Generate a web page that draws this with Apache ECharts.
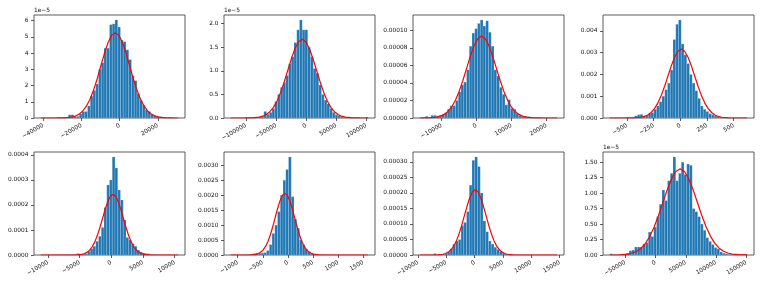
<!DOCTYPE html>
<html><head><meta charset="utf-8">
<script src="https://cdn.jsdelivr.net/npm/echarts@6/dist/echarts.min.js"></script>
<style>html,body{margin:0;padding:0;background:#fff}#c{width:761px;height:286px}</style>
</head><body><div id="c"></div>
<script>
const NBINS = 50;

// ---- Panel 1 (densities in 1e-5) ----
const range1 = [-41270, 30660];
const dens1 = [0.01,0.01,0,0.01,0.02,0.01,0.02,0.03,0.04,0.05,
  0.2,0.2,0.1,0.1,0.25,0.4,0.4,0.75,1.35,1.7,
  2.1,3.0,3.4,4.3,4.3,5.75,5.8,6.04,5.6,4.8,
  4.7,4.2,3.6,2.6,2.3,1.5,1.1,0.8,0.5,0.4,
  0.25,0.15,0.1,0.08,0.05,0.03,0.02,0.01,0.01,0.01];
const curveX1 = [-41270,-32700,-28900,-25100,-23200,-21300,-19400,-17500,-15600,-13700,-11800,-9900,-8000,-6100,-4200,-2300,-400,1500,3400,5300,7200,9100,11000,12900,14800,16700,18600,20500,24300,28100,30660];
const curveY1 = [0,0.0018,0.0115,0.058,0.12,0.23,0.418,0.71,1.136,1.705,2.403,3.184,3.963,4.633,5.088,5.25,5.088,4.633,3.963,3.184,2.403,1.705,1.136,0.71,0.418,0.23,0.12,0.058,0.0115,0.0018,0];
const xTicks1 = [-40000,-20000,0,20000];
const yTicks1 = [0,1,2,3,4,5,6];

// ---- Panel 2 (1e-5) ----
const range2 = [-125300, 103000];
const dens2 = [0.01,0,0,0.005,0,0.005,0.01,0.01,0.005,0.01,
  0.02,0.04,0.14,0.08,0.12,0.2,0.35,0.5,0.65,0.75,
  0.9,1.15,1.3,1.6,1.87,2.08,1.87,1.87,1.5,1.3,
  1.05,0.95,0.7,0.5,0.38,0.3,0.2,0.12,0.07,0.05,
  0.03,0.02,0.01,0.01,0.005,0.005,0,0,0.005,0.02];
const curveX2 = [-125300,-102300,-90350,-78400,-72425,-66450,-60475,-54500,-48525,-42550,-36575,-30600,-24625,-18650,-12675,-6700,-725,5250,11225,17200,23175,29150,35125,41100,47075,53050,59025,65000,76950,88900,103000];
const curveY2 = [0,0.00056,0.0037,0.0185,0.0381,0.0733,0.1329,0.226,0.3612,0.5422,0.7645,1.0129,1.2605,1.4738,1.6186,1.67,1.6186,1.4738,1.2605,1.0129,0.7645,0.5422,0.3612,0.226,0.1329,0.0733,0.0381,0.0185,0.0037,0.00056,0];
const xTicks2 = [-100000,-50000,0,50000,100000];
const yTicks2 = [0,0.5,1,1.5,2];

// ---- Panel 3 (1e-4) ----
const range3 = [-16225, 23085];
const dens3 = [0.005,0.01,0.02,0.01,0.03,0.03,0.025,0.03,0.04,0.06,
  0.1,0.14,0.14,0.2,0.3,0.38,0.41,0.55,0.82,0.97,
  1.02,1.08,1.12,1.05,1.11,0.98,0.82,0.55,0.48,0.35,
  0.27,0.15,0.21,0.11,0.1,0.05,0.03,0.02,0.02,0.015,
  0.01,0.005,0.005,0.005,0.003,0.003,0.003,0.002,0.002,0.005];
const curveX3 = [-16225,-15650,-13515,-11380,-10313,-9245,-8178,-7110,-6043,-4975,-3908,-2840,-1773,-705,363,1430,2498,3565,4633,5700,6768,7835,8903,9970,11038,12105,13173,14240,16375,18510,23085];
const curveY3 = [0,0.00031,0.00205,0.0104,0.0213,0.041,0.0744,0.1265,0.2022,0.3036,0.428,0.5671,0.7057,0.8251,0.9062,0.935,0.9062,0.8251,0.7057,0.5671,0.428,0.3036,0.2022,0.1265,0.0744,0.041,0.0213,0.0104,0.00205,0.00031,0];
const xTicks3 = [-10000,0,10000,20000];
const yTicks3 = [0,0.2,0.4,0.6,0.8,1.0];

// ---- Panel 4 (1e-3) ----
const range4 = [-661, 626];
const dens4 = [0.02,0.01,0.01,0.02,0.02,0.03,0.05,0.05,0.05,0.1,
  0.15,0.17,0.1,0.12,0.2,0.25,0.4,0.55,0.75,1.0,
  1.3,1.6,2.2,3.6,4.3,4.5,3.4,2.9,2.5,2.0,
  1.6,1.25,0.9,0.55,0.4,0.3,0.2,0.15,0.1,0.06,
  0.05,0.03,0.02,0.03,0.01,0.01,0.01,0.005,0.005,0.01];
const curveX4 = [-661,-495,-432,-369,-337.5,-306,-274.5,-243,-211.5,-180,-148.5,-117,-85.5,-54,-22.5,9,40.5,72,103.5,135,166.5,198,229.5,261,292.5,324,355.5,387,450,513,626];
const curveY4 = [0,0.00106,0.0069,0.0351,0.072,0.1387,0.2515,0.4275,0.6835,1.026,1.4466,1.9165,2.3852,2.7887,3.0627,3.16,3.0627,2.7887,2.3852,1.9165,1.4466,1.026,0.6835,0.4275,0.2515,0.1387,0.072,0.0351,0.0069,0.00106,0];
const xTicks4 = [-500,-250,0,250,500];
const yTicks4 = [0,1,2,3,4];

// ---- Panel 5 (1e-4) ----
const range5 = [-11127, 10547];
const dens5 = [0.01,0,0,0.005,0.005,0.01,0.01,0.01,0.02,0.02,
  0.02,0.03,0.03,0.06,0.03,0.04,0.05,0.15,0.25,0.35,
  0.55,0.75,1.1,1.9,2.8,3.0,3.92,3.48,2.6,2.2,
  1.4,0.7,0.6,0.45,0.35,0.2,0.12,0.08,0.06,0.05,
  0.03,0.02,0.01,0.01,0.005,0.005,0.005,0,0,0.005];
const curveX5 = [-11127,-6300,-5480,-4660,-4250,-3840,-3430,-3020,-2610,-2200,-1790,-1380,-970,-560,-150,260,670,1080,1490,1900,2310,2720,3130,3540,3950,4360,4770,5180,6000,6820,10547];
const curveY5 = [0,0.00081,0.0053,0.0269,0.0552,0.1062,0.1926,0.3274,0.5234,0.7858,1.1079,1.4677,1.8266,2.1357,2.3455,2.42,2.3455,2.1357,1.8266,1.4677,1.1079,0.7858,0.5234,0.3274,0.1926,0.1062,0.0552,0.0269,0.0053,0.00081,0];
const xTicks5 = [-10000,-5000,0,5000,10000];
const yTicks5 = [0,1,2,3,4];

// ---- Panel 6 (1e-3) ----
const range6 = [-1136, 1597];
const dens6 = [0.02,0.01,0,0.01,0.01,0.02,0.02,0.03,0.05,0.06,
  0.06,0.07,0.08,0.15,0.35,0.72,1.0,1.45,2.0,2.5,
  2.86,3.28,1.95,1.2,0.9,0.5,0.35,0.2,0.12,0.06,
  0.04,0.03,0.02,0.02,0.01,0.01,0.01,0.005,0.005,0.005,
  0.005,0.005,0.003,0.003,0.003,0.003,0.003,0.003,0.003,0.005];
const curveX6 = [-1136,-836,-739,-642,-593.5,-545,-496.5,-448,-399.5,-351,-302.5,-254,-205.5,-157,-108.5,-60,-11.5,37,85.5,134,182.5,231,279.5,328,376.5,425,473.5,522,619,716,1597];
const curveY6 = [0,0.00069,0.0045,0.0229,0.047,0.0904,0.164,0.2787,0.4456,0.6689,0.9431,1.2494,1.5549,1.818,1.9966,2.06,1.9966,1.818,1.5549,1.2494,0.9431,0.6689,0.4456,0.2787,0.164,0.0904,0.047,0.0229,0.0045,0.00069,0];
const xTicks6 = [-1000,-500,0,500,1000,1500];
const yTicks6 = [0,0.5,1,1.5,2,2.5,3];

// ---- Panel 7 (1e-4) ----
const range7 = [-9669, 14554];
const dens7 = [0.01,0.005,0.005,0.01,0.01,0.05,0.01,0.02,0.03,0.05,
  0.1,0.2,0.35,0.45,0.5,0.95,1.05,1.4,2.25,3.05,
  3.16,2.85,2.0,1.1,0.75,0.45,0.35,0.25,0.18,0.12,
  0.06,0.03,0.02,0.02,0.01,0.01,0.01,0.005,0.005,0.005,
  0.003,0.003,0.003,0.003,0.003,0.003,0.003,0.003,0.003,0.005];
const curveX7 = [-9669,-7500,-6550,-5600,-5125,-4650,-4175,-3700,-3225,-2750,-2275,-1800,-1325,-850,-375,100,575,1050,1525,2000,2475,2950,3425,3900,4375,4850,5325,5800,6750,7700,14554];
const curveY7 = [0,0.0007,0.0046,0.0233,0.0479,0.0922,0.1672,0.2841,0.4542,0.6819,0.9614,1.2737,1.5851,1.8533,2.0353,2.1,2.0353,1.8533,1.5851,1.2737,0.9614,0.6819,0.4542,0.2841,0.1672,0.0922,0.0479,0.0233,0.0046,0.0007,0];
const xTicks7 = [-10000,-5000,0,5000,10000,15000];
const yTicks7 = [0,0.5,1,1.5,2,2.5,3];

// ---- Panel 8 (1e-5) ----
const range8 = [-75460, 151300];
const dens8 = [0.02,0.01,0.01,0.01,0.01,0.01,0.03,0.07,0.08,0.13,
  0.13,0.13,0.18,0.2,0.37,0.3,0.45,0.62,0.82,1.05,
  0.88,1.2,1.32,1.585,1.2,1.32,1.5,1.3,1.47,1.45,
  0.75,0.7,0.62,0.5,0.4,0.28,0.22,0.17,0.12,0.1,
  0.05,0.03,0.02,0.01,0.01,0.01,0.01,0.01,0.01,0.01];
const curveX8 = [-75460,-59580,-45260,-38100,-30940,-23780,-16620,-9460,-2300,4860,12020,19180,26340,33500,40660,47820,54980,62140,69300,76460,83620,90780,97940,105100,112260,119420,126580,140900,151300];
const curveY8 = [0.0004,0.00305,0.0155,0.0318,0.0612,0.1109,0.1885,0.3013,0.4523,0.6377,0.8449,1.0514,1.2293,1.3501,1.393,1.3501,1.2293,1.0514,0.8449,0.6377,0.4523,0.3013,0.1885,0.1109,0.0612,0.0318,0.0155,0.00305,0.0008];
const xTicks8 = [-50000,0,50000,100000,150000];
const yTicks8 = [0,0.25,0.5,0.75,1,1.25,1.5];

const panels = [
  {range:range1, dens:dens1, cx:curveX1, cy:curveY1, xt:xTicks1, yt:yTicks1, unit:1,    dec:0, off:'1e\u22125'},
  {range:range2, dens:dens2, cx:curveX2, cy:curveY2, xt:xTicks2, yt:yTicks2, unit:1,    dec:1, off:'1e\u22125'},
  {range:range3, dens:dens3, cx:curveX3, cy:curveY3, xt:xTicks3, yt:yTicks3, unit:1e-4, dec:5, off:''},
  {range:range4, dens:dens4, cx:curveX4, cy:curveY4, xt:xTicks4, yt:yTicks4, unit:1e-3, dec:3, off:''},
  {range:range5, dens:dens5, cx:curveX5, cy:curveY5, xt:xTicks5, yt:yTicks5, unit:1e-4, dec:4, off:''},
  {range:range6, dens:dens6, cx:curveX6, cy:curveY6, xt:xTicks6, yt:yTicks6, unit:1e-3, dec:4, off:''},
  {range:range7, dens:dens7, cx:curveX7, cy:curveY7, xt:xTicks7, yt:yTicks7, unit:1e-4, dec:5, off:''},
  {range:range8, dens:dens8, cx:curveX8, cy:curveY8, xt:xTicks8, yt:yTicks8, unit:1,    dec:2, off:'1e\u22125'}
];

const lefts = [34, 224, 413, 603];
const tops = [15, 152];
const GW = 151, GH = 103;
const FONT = 'DejaVu Sans';
const FS = 5.9;

function renderBar(params, api) {
  const p0 = api.coord([api.value(0), api.value(2)]);
  const p1 = api.coord([api.value(1), 0]);
  return {
    type: 'rect',
    shape: {x: p0[0], y: p0[1], width: p1[0] - p0[0], height: p1[1] - p0[1]},
    style: {fill: '#1f77b4', stroke: 'rgba(255,255,255,0.45)', lineWidth: 0.4}
  };
}
function fmtX(v) {
  return v < 0 ? '\u2212' + Math.abs(v) : String(v);
}

const grid = [], xAxis = [], yAxis = [], series = [];
panels.forEach((p, i) => {
  const [a, b] = p.range;
  const w = (b - a) / NBINS;
  const pad = 0.05 * (b - a);
  const ymax = 1.05 * Math.max(Math.max(...p.dens), Math.max(...p.cy));
  grid.push({left: lefts[i % 4], top: tops[Math.floor(i / 4)], width: GW, height: GH,
    show: true, borderColor: '#333', borderWidth: 0.8, containLabel: false});
  xAxis.push({type: 'value', gridIndex: i, min: a - pad, max: b + pad, position: 'bottom',
    splitLine: {show: false}, axisLine: {show: false, onZero: false},
    axisTick: {show: true, length: 3, lineStyle: {color: '#333', width: 0.8}, customValues: p.xt},
    axisLabel: {customValues: p.xt, rotate: 30, margin: 7, fontSize: FS, fontFamily: FONT, color: '#111', formatter: fmtX}
  });
  yAxis.push({type: 'value', gridIndex: i, min: 0, max: ymax, position: 'left',
    splitLine: {show: false}, axisLine: {show: false, onZero: false},
    axisTick: {show: true, length: 3, lineStyle: {color: '#333', width: 0.8}, customValues: p.yt},
    axisLabel: {customValues: p.yt, margin: 5.5, fontSize: FS, fontFamily: FONT, color: '#111',
      formatter: v => (v * p.unit).toFixed(p.dec)},
    name: p.off, nameLocation: 'end', nameGap: 2,
    nameTextStyle: {fontSize: FS, fontFamily: FONT, color: '#111', align: 'left', verticalAlign: 'bottom'}
  });
  const bars = p.dens.map((d, k) => [a + k * w, a + (k + 1) * w, d]);
  series.push({type: 'custom', xAxisIndex: i, yAxisIndex: i, renderItem: renderBar,
    encode: {x: [0, 1], y: 2}, data: bars, clip: true, z: 2, silent: true});
  series.push({type: 'line', xAxisIndex: i, yAxisIndex: i, data: p.cx.map((x, k) => [x, p.cy[k]]),
    smooth: false, showSymbol: false, symbol: 'none',
    lineStyle: {color: '#ff0000', width: 1.2}, z: 3, silent: true});
});

const chart = echarts.init(document.getElementById('c'), null, {renderer: 'canvas'});
chart.setOption({backgroundColor: '#fff', animation: false, grid, xAxis, yAxis, series});
</script>
</body></html>
